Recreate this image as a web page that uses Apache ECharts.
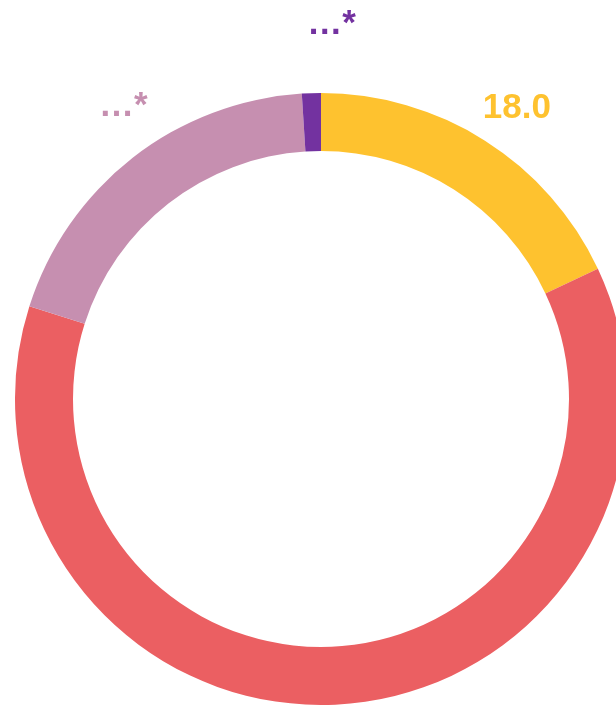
<!DOCTYPE html>
<html>
<head>
<meta charset="utf-8">
<style>
  html, body { margin: 0; padding: 0; background: #ffffff; }
  #chart { width: 616px; height: 705px; }
</style>
<script src="https://cdn.jsdelivr.net/npm/echarts@6/dist/echarts.min.js"></script>
</head>
<body>
<div id="chart"></div>
<script>
// Data
var categories = ['A', 'B', 'C', 'D'];
var values = [18.0, 61.9, 19.1, 1.0];
var labelTexts = ['18.0', '61.9', '\u2026*', '\u2026*'];
var colors = ['#FEC22F', '#EB5F62', '#C68FB0', '#7332A0'];

var chart = echarts.init(document.getElementById('chart'), null, { renderer: 'canvas' });

// label nudges (layout only)
var labelNudge = [[-11, 0], [0, 0], [7, 0], [3, -18]];

var ringData = categories.map(function (c, i) {
  return { name: c, value: values[i], itemStyle: { color: colors[i] } };
});
var labelData = categories.map(function (c, i) {
  return {
    name: c, value: values[i],
    itemStyle: { color: 'rgba(0,0,0,0)' },
    label: { color: colors[i], formatter: labelTexts[i], offset: labelNudge[i] }
  };
});

chart.setOption({
  animation: false,
  backgroundColor: '#ffffff',
  series: [
    {
      type: 'pie',
      center: [321, 399],
      radius: [248, 306],
      startAngle: 90,
      clockwise: true,
      silent: true,
      avoidLabelOverlap: false,
      label: { show: false },
      labelLine: { show: false },
      emphasis: { disabled: true },
      data: ringData
    },
    {
      type: 'pie',
      center: [321, 399],
      radius: [344, 364],
      startAngle: 87,
      clockwise: true,
      silent: true,
      avoidLabelOverlap: false,
      label: {
        show: true,
        position: 'inside',
        rotate: 0,
        fontFamily: "'Liberation Sans', Arial, sans-serif",
        fontWeight: 'bold',
        fontSize: 35
      },
      labelLine: { show: false },
      emphasis: { disabled: true },
      data: labelData
    }
  ]
});
</script>
</body>
</html>
